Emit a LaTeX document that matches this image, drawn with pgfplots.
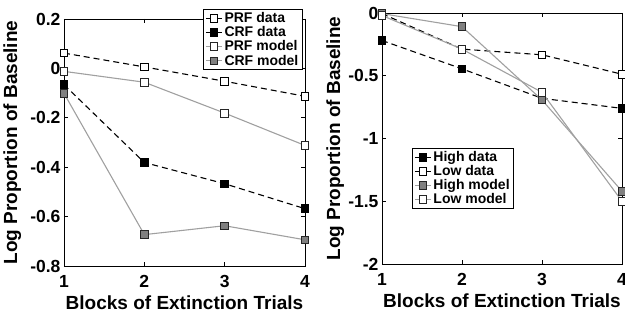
\documentclass[border=0pt]{standalone}
\usepackage{fontspec}
\setmainfont{Liberation Sans}
\usepackage{pgfplots}
\pgfplotsset{compat=1.18}
\definecolor{mline}{RGB}{160,160,160}
\definecolor{mfill}{RGB}{128,128,128}
\pgfplotsset{
  mystyle/.style={
    scale only axis,
    enlargelimits=false,
    clip=false,
    xmin=1, xmax=4,
    xtick={1,2,3,4},
    xticklabels={1,2,3,4},
    axis line style={line width=0.8pt},
    tick style={line width=0.6pt, black},
    major tick length=4pt,
    tick align=inside,
    ticklabel style={font=\fontsize{17.5}{17.5}\selectfont\bfseries},
    xticklabel style={yshift=-6pt},
    xlabel={Blocks of Extinction Trials},
    ylabel={Log Proportion of Baseline},
    label style={font=\fontsize{19}{19}\selectfont\bfseries},
    xlabel style={at={(rel axis cs:0.5,0)}, anchor=north, yshift=-26pt},
    legend cell align=left,
    legend style={font=\fontsize{14}{14}\selectfont\bfseries, draw=black, line width=0.7pt, fill=white,
      inner xsep=2pt, inner ysep=1pt, row sep=-1.5pt},
    legend image code/.code={\draw[mark repeat=2,mark phase=2,#1] plot coordinates {(0pt,0pt) (8pt,0pt) (16pt,0pt)};},
  },
  dataw/.style={black, line width=1.1pt, dash pattern=on 6pt off 4pt, mark=square*, mark size=3.8pt, mark options={solid, fill=white, draw=black, line width=0.8pt}},
  datab/.style={black, line width=1.1pt, dash pattern=on 6pt off 4pt, mark=square*, mark size=3.8pt, mark options={solid, fill=black, draw=black, line width=0.8pt}},
  modw/.style={mline, line width=1.1pt, mark=square*, mark size=3.8pt, mark options={solid, fill=white, draw=black!85, line width=0.8pt}},
  modg/.style={mline, line width=1.1pt, mark=square*, mark size=3.8pt, mark options={solid, fill=mfill, draw=black!85, line width=0.8pt}},
}
\begin{document}
\begin{tikzpicture}
\begin{axis}[mystyle,
  at={(64pt,54pt)}, anchor=south west,
  width=241pt, height=247pt,
  ymin=-0.8, ymax=0.2,
  ytick={-0.8,-0.6,-0.4,-0.2,0,0.2},
  yticklabels={-0.8,-0.6,-0.4,-0.2,0,0.2},
  ylabel style={at={(rel axis cs:-0.195,0.5)}, anchor=base, rotate=0},
  legend style={at={(rel axis cs:0.577,1.04)}, anchor=north west},
]
\addplot[dataw] coordinates {(1,0.062) (2,0.006) (3,-0.052) (4,-0.113)};
\addlegendentry{PRF data}
\addplot[datab] coordinates {(1,-0.066) (2,-0.381) (3,-0.467) (4,-0.568)};
\addlegendentry{CRF data}
\addplot[modw] coordinates {(1,-0.012) (2,-0.056) (3,-0.181) (4,-0.312)};
\addlegendentry{PRF model}
\addplot[modg] coordinates {(1,-0.101) (2,-0.673) (3,-0.637) (4,-0.694)};
\addlegendentry{CRF model}
\end{axis}
\begin{axis}[mystyle,
  at={(382pt,56pt)}, anchor=south west,
  width=240pt, height=251pt,
  ymin=-2, ymax=0,
  ytick={-2,-1.5,-1,-0.5,0},
  yticklabels={-2,-1.5,-1,-0.5,0},
  ylabel style={at={(rel axis cs:-0.175,0.5)}, anchor=base, rotate=0},
  legend style={at={(rel axis cs:0.125,0.462)}, anchor=north west},
]
\addplot[datab] coordinates {(1,-0.219) (2,-0.445) (3,-0.68) (4,-0.76)};
\addlegendentry{High data}
\addplot[dataw] coordinates {(1,-0.005) (2,-0.288) (3,-0.333) (4,-0.488)};
\addlegendentry{Low data}
\addplot[modg] coordinates {(1,-0.005) (2,-0.109) (3,-0.693) (4,-1.42)};
\addlegendentry{High model}
\addplot[modw] coordinates {(1,-0.02) (2,-0.288) (3,-0.632) (4,-1.50)};
\addlegendentry{Low model}
\end{axis}
\pgfresetboundingbox
\path[use as bounding box] (0,0) rectangle (625pt,320pt);
\end{tikzpicture}
\end{document}
